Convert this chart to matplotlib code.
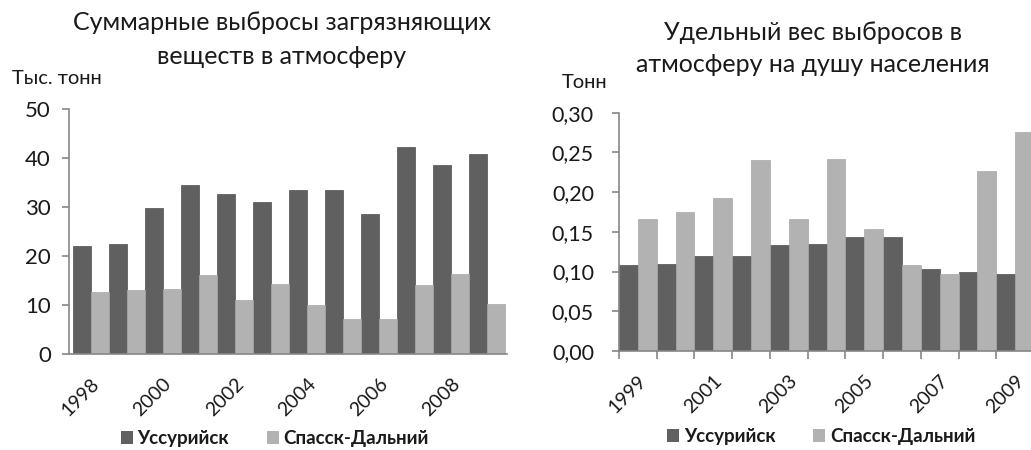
import numpy as np
import matplotlib
matplotlib.use("Agg")
import matplotlib.pyplot as plt
from matplotlib.patches import Patch

plt.rcParams['font.family'] = ['Lato', 'DejaVu Sans']

# Суммарные выбросы, тыс. тонн
years_total = [1998, 1999, 2000, 2001, 2002, 2003, 2004, 2005, 2006, 2007, 2008, 2009]
uss_total = [22.1, 22.5, 29.7, 34.4, 32.7, 31.0, 33.4, 33.4, 28.6, 42.2, 38.5, 40.9]
spassk_total = [12.6, 13.0, 13.3, 16.1, 11.0, 14.3, 9.9, 7.2, 7.2, 14.0, 16.4, 10.3]

# Удельный вес на душу населения, тонн
years_pc = [1999, 2000, 2001, 2002, 2003, 2004, 2005, 2006, 2007, 2008, 2009]
uss_pc = [0.108, 0.110, 0.120, 0.120, 0.133, 0.135, 0.143, 0.143, 0.103, 0.099, 0.097]
spassk_pc = [0.166, 0.175, 0.192, 0.240, 0.166, 0.242, 0.154, 0.108, 0.097, 0.227, 0.276]

dark = '#606060'
light = '#b2b2b2'
spine = '#868686'
txt = '#1a1a1a'

fig = plt.figure(figsize=(10.31, 4.5), dpi=100)

def style(ax, pad, size):
    for s in ['top', 'right']:
        ax.spines[s].set_visible(False)
    for s in ['left', 'bottom']:
        ax.spines[s].set_color(spine)
        ax.spines[s].set_linewidth(1.2)
    ax.tick_params(axis='y', colors=spine, labelcolor=txt, labelsize=size, length=5, width=1.2, pad=pad)

def legend(ax, x, y):
    handles = [Patch(facecolor=dark, label='Уссурийск'), Patch(facecolor=light, label='Спасск-Дальний')]
    ax.legend(handles=handles, loc='center', bbox_to_anchor=(x, y), ncol=2, frameon=False,
              prop={'weight': 'bold', 'size': 13.5}, handlelength=0.65, handleheight=0.65,
              handletextpad=0.25, columnspacing=2.0, labelcolor=txt)

w = 0.5

# left chart
ax1 = fig.add_axes([69 / 1031, 1 - 354 / 450, 438 / 1031, 245 / 450])
x1 = np.arange(len(years_total))
ax1.bar(x1 - w / 2, uss_total, w, color=dark, edgecolor='#505050', linewidth=0.5)
ax1.bar(x1 + w / 2, spassk_total, w, color=light, edgecolor='#a8a8a8', linewidth=0.5)
ax1.set_ylim(0, 50)
ax1.set_yticks([0, 10, 20, 30, 40, 50])
ax1.set_xlim(-0.6, 11.55)
style(ax1, 8, 16)
ax1.set_xticks(x1[::2])
ax1.set_xticklabels([str(y) for y in years_total[::2]], rotation=45, ha='right',
                    rotation_mode='anchor', fontsize=14, color=txt)
ax1.tick_params(axis='x', length=0, pad=15)
legend(ax1, 0.47, -0.345)
fig.text(282 / 1031, 1 - 23 / 450, 'Суммарные выбросы загрязняющих', ha='center', va='center', fontsize=18, color=txt)
fig.text(282 / 1031, 1 - 57 / 450, 'веществ в атмосферу', ha='center', va='center', fontsize=18, color=txt)
fig.text(12 / 1031, 1 - 78 / 450, 'Тыс. тонн', ha='left', va='center', fontsize=14.5, color=txt)

# right chart
ax2 = fig.add_axes([619 / 1031, 1 - 351 / 450, 415 / 1031, 238.3 / 450])
x2 = np.arange(len(years_pc))
ax2.bar(x2 - w / 2, uss_pc, w, color=dark, edgecolor='#505050', linewidth=0.5)
ax2.bar(x2 + w / 2, spassk_pc, w, color=light, edgecolor='#a8a8a8', linewidth=0.5)
ax2.set_ylim(0, 0.30)
yt = [0, 0.05, 0.10, 0.15, 0.20, 0.25, 0.30]
ax2.set_yticks(yt)
ax2.set_yticklabels([f'{v:.2f}'.replace('.', ',') for v in yt])
ax2.set_xlim(-0.5, 10.5)
style(ax2, 13, 15.5)
ax2.set_xticks(x2[::2])
ax2.set_xticklabels([str(y) for y in years_pc[::2]], rotation=45, ha='right',
                    rotation_mode='anchor', fontsize=14, color=txt)
ax2.set_xticks(np.arange(len(years_pc) + 1) - 0.5, minor=True)
ax2.tick_params(axis='x', which='major', length=0, pad=15)
ax2.tick_params(axis='x', which='minor', length=6, width=1.2, colors=spine)
legend(ax2, 0.487, -0.36)
fig.text(813 / 1031, 1 - 32 / 450, 'Удельный вес выбросов в', ha='center', va='center', fontsize=18, color=txt)
fig.text(813 / 1031, 1 - 65 / 450, 'атмосферу на душу населения', ha='center', va='center', fontsize=18, color=txt)
fig.text(562 / 1031, 1 - 82 / 450, 'Тонн', ha='left', va='center', fontsize=14.5, color=txt)

fig.savefig('out.png', dpi=100)
